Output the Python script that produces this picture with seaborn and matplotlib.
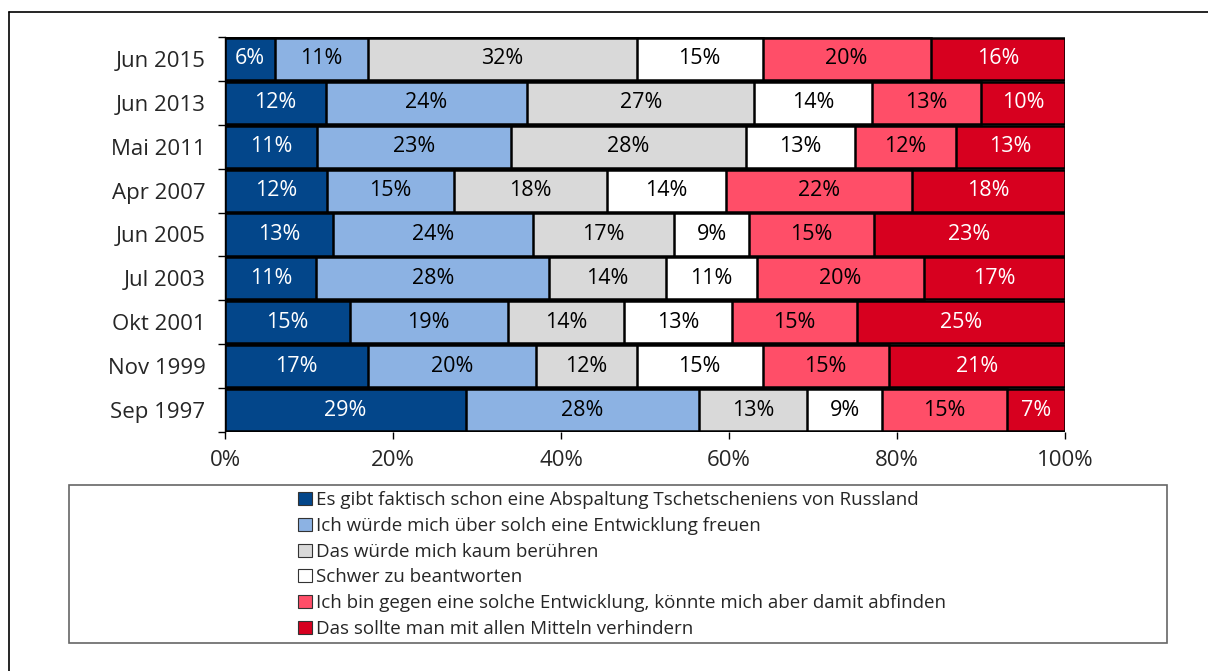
import matplotlib
matplotlib.use("Agg")
import matplotlib.pyplot as plt
import numpy as np
import pandas as pd
import seaborn as sns
from matplotlib.patches import Patch, Rectangle
from matplotlib.ticker import FixedLocator, PercentFormatter

# survey waves, top to bottom
waves = ["Jun 2015", "Jun 2013", "Mai 2011", "Apr 2007", "Jun 2005",
         "Jul 2003", "Okt 2001", "Nov 1999", "Sep 1997"]

answers = [
    "Es gibt faktisch schon eine Abspaltung Tschetscheniens von Russland",
    "Ich würde mich über solch eine Entwicklung freuen",
    "Das würde mich kaum berühren",
    "Schwer zu beantworten",
    "Ich bin gegen eine solche Entwicklung, könnte mich aber damit abfinden",
    "Das sollte man mit allen Mitteln verhindern",
]

already_split = [6, 12, 11, 12, 13, 11, 15, 17, 29]
would_welcome = [11, 24, 23, 15, 24, 28, 19, 20, 28]
would_not_care = [32, 27, 28, 18, 17, 14, 14, 12, 13]
hard_to_say = [15, 14, 13, 14, 9, 11, 13, 15, 9]
against_accept = [20, 13, 12, 22, 15, 20, 15, 15, 15]
prevent_at_all_costs = [16, 10, 13, 18, 23, 17, 25, 21, 7]

colors = ["#03468a", "#8cb2e3", "#d9d9d9", "#ffffff", "#ff4e68", "#d7001f"]
text_colors = ["white", "black", "black", "black", "black", "white"]

series = [already_split, would_welcome, would_not_care, hard_to_say,
          against_accept, prevent_at_all_costs]

sns.set_theme(style="white")
plt.rcParams["font.family"] = ["Open Sans", "DejaVu Sans"]

vals = np.array(series, dtype=float).T  # rows = waves
share = vals / vals.sum(axis=1, keepdims=True) * 100
cum = share.cumsum(axis=1)

fig = plt.figure(figsize=(12.08, 6.71), dpi=100)
ax = fig.add_axes([225 / 1208, 1 - 432 / 671, 840 / 1208, 395 / 671])

# stacked bars drawn as cumulative totals, widest first
for i in range(len(answers) - 1, -1, -1):
    df = pd.DataFrame({"wave": waves, "cum": cum[:, i]})
    sns.barplot(data=df, x="cum", y="wave", orient="h", color=colors[i],
                saturation=1, edgecolor="black", linewidth=1.8, width=0.96,
                ax=ax)

for r, wave in enumerate(waves):
    for i in range(len(answers)):
        start = cum[r, i] - share[r, i]
        ax.text(start + share[r, i] / 2, r, f"{int(vals[r, i])}%",
                ha="center", va="center", fontsize=15.5, color=text_colors[i])

ax.set_xlim(0, 100)
ax.set_ylim(len(waves) - 0.5, -0.5)
ax.set_xlabel("")
ax.set_ylabel("")
ax.xaxis.set_major_locator(FixedLocator([0, 20, 40, 60, 80, 100]))
ax.xaxis.set_major_formatter(PercentFormatter(decimals=0))
ax.tick_params(axis="x", labelsize=16, length=5, width=1, color="black",
               direction="out", bottom=True, pad=8)
ax.tick_params(axis="y", which="major", labelsize=16, length=0, pad=14)
ax.yaxis.set_minor_locator(FixedLocator(np.arange(-0.5, len(waves), 1)))
ax.tick_params(axis="y", which="minor", length=5, width=1, color="black",
               direction="out", left=True)
for side in ["top", "right"]:
    ax.spines[side].set_visible(False)
ax.spines["left"].set_color("black")
ax.spines["left"].set_linewidth(1)
ax.spines["bottom"].set_visible(False)

# legend inside a wide framed box
fig.add_artist(Rectangle((69 / 1208, 1 - 643 / 671), (1167 - 69) / 1208,
                         (643 - 485) / 671, transform=fig.transFigure,
                         facecolor="white", edgecolor="#666666", linewidth=1.2))
handles = [Patch(facecolor=c, edgecolor="#333333", linewidth=0.8) for c in colors]
fig.legend(handles, answers, loc="upper left",
           bbox_to_anchor=(289 / 1208, 1 - 482 / 671),
           frameon=False, fontsize=13.5, handlelength=0.7, handleheight=0.7,
           handletextpad=0.25, labelspacing=0.41, borderpad=0)

# outer frame (left and top edges)
fig.add_artist(plt.Line2D([9 / 1208, 9 / 1208], [0, 1 - 12 / 671],
                          transform=fig.transFigure, color="black", linewidth=1.2))
fig.add_artist(plt.Line2D([9 / 1208, 1], [1 - 12 / 671, 1 - 12 / 671],
                          transform=fig.transFigure, color="black", linewidth=1.2))

fig.savefig("out.png", dpi=100)
